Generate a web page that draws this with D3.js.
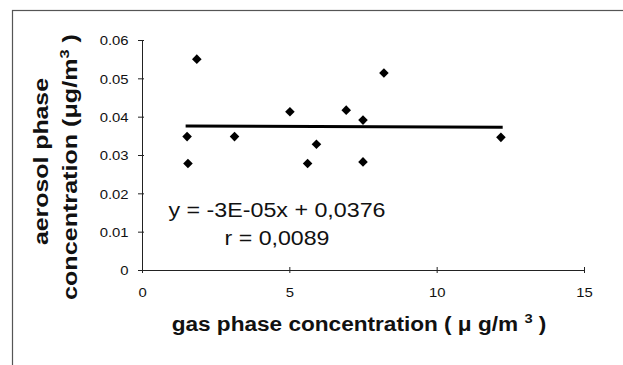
<!DOCTYPE html>
<html>
<head>
<meta charset="utf-8">
<script src="https://cdn.jsdelivr.net/npm/d3@7"></script>
<style>
  body { margin: 0; background: #fff; }
  svg { display: block; font-family: "Liberation Sans", Arial, sans-serif; }
</style>
</head>
<body>
<div id="chart"></div>
<script>
// values
const gasConc = [1.53, 1.56, 1.86, 3.14, 5.02, 5.62, 5.92, 6.93, 7.50, 7.50, 8.21, 12.18];
const aerosolConc = [0.0348, 0.0278, 0.0550, 0.0348, 0.0413, 0.0278, 0.0328, 0.0417, 0.0391, 0.0282, 0.0514, 0.0346];
const xTicks = [0, 5, 10, 15];
const yTicks = [0, 0.01, 0.02, 0.03, 0.04, 0.05, 0.06];
const trendSlope = -3e-5, trendIntercept = 0.0376;
const trendRange = [1.48, 12.24];
const equationText = "y = -3E-05x + 0,0376";
const rText = "r = 0,0089";

const W = 623, H = 365;
const margin = {top: 40, right: 39, bottom: 95, left: 142},
    width = W - margin.left - margin.right,
    height = H - margin.top - margin.bottom;

const svg = d3.select("#chart").append("svg")
    .attr("width", W)
    .attr("height", H);

// outer chart frame (only top and left edges visible in the scan)
svg.append("rect")
    .attr("x", 12.5).attr("y", 10.5)
    .attr("width", 700).attr("height", 500)
    .attr("fill", "none")
    .attr("stroke", "#555")
    .attr("stroke-width", 1.2);

const g = svg.append("g")
    .attr("transform", "translate(" + margin.left + "," + margin.top + ")");

const x = d3.scaleLinear().domain([0, 15]).range([0, width]);
const y = d3.scaleLinear().domain([0, 0.06]).range([height, 0]);

// the scanned font is wider than Arial, so stretch text along its direction
function fit(text, len) {
    const w = text.node().getComputedTextLength();
    const t = text.attr("transform") || "";
    text.attr("transform", t + " scale(" + (len / w) + ",1)");
}

// y axis
const yAxis = g.append("g")
    .call(d3.axisLeft(y).tickValues(yTicks).tickSizeInner(4).tickSizeOuter(0)
        .tickFormat(d => d === 0 ? "0" : d3.format(".2f")(d)));
yAxis.select(".domain").attr("stroke", "#222");
yAxis.selectAll(".tick line").attr("x1", 2).attr("stroke", "#222");
yAxis.selectAll(".tick text")
    .attr("x", -13.4)
    .attr("dy", "0.36em")
    .attr("font-size", 13.5)
    .attr("fill", "#111")
    .attr("lengthAdjust", "spacingAndGlyphs")
    .attr("textLength", function() { return this.getComputedTextLength() * 1.1; });

// x axis
const xAxis = g.append("g")
    .attr("transform", "translate(0," + height + ")")
    .call(d3.axisBottom(x).tickValues(xTicks).tickSizeInner(3).tickSizeOuter(0)
        .tickFormat(d3.format("d")));
xAxis.select(".domain").attr("stroke", "#222");
xAxis.selectAll(".tick line").attr("y1", -3).attr("stroke", "#222");
xAxis.selectAll(".tick text")
    .attr("y", 22.5)
    .attr("dy", "0.36em")
    .attr("font-size", 13.5)
    .attr("fill", "#111")
    .attr("lengthAdjust", "spacingAndGlyphs")
    .attr("textLength", function() { return this.getComputedTextLength() * 1.1; });

// trend line
g.append("line")
    .attr("x1", x(trendRange[0]))
    .attr("x2", x(trendRange[1]))
    .attr("y1", y(trendSlope * trendRange[0] + trendIntercept))
    .attr("y2", y(trendSlope * trendRange[1] + trendIntercept))
    .attr("stroke", "#000")
    .attr("stroke-width", 3);

// diamond markers
const points = gasConc.map((d, i) => ({gx: d, ay: aerosolConc[i]}));
g.selectAll("path.pt").data(points)
    .enter().append("path")
    .attr("class", "pt")
    .attr("d", d3.symbol(d3.symbolSquare, 46))
    .attr("transform", d => "translate(" + x(d.gx) + "," + y(d.ay) + ") rotate(45)")
    .attr("fill", "#000");

// regression text
svg.append("text")
    .attr("x", 277).attr("y", 216.7)
    .attr("text-anchor", "middle")
    .attr("font-size", 20)
    .attr("fill", "#111")
    .attr("textLength", 217)
    .attr("lengthAdjust", "spacingAndGlyphs")
    .text(equationText);

svg.append("text")
    .attr("x", 277).attr("y", 245)
    .attr("text-anchor", "middle")
    .attr("font-size", 20)
    .attr("fill", "#111")
    .attr("textLength", 105)
    .attr("lengthAdjust", "spacingAndGlyphs")
    .text(rText);

// x axis title
const xTitle = svg.append("text")
    .attr("transform", "translate(359,331)")
    .attr("text-anchor", "middle")
    .attr("font-size", 20)
    .attr("font-weight", "bold")
    .attr("fill", "#111");
xTitle.append("tspan").text("gas phase concentration ( \u03bc g/m ");
xTitle.append("tspan").attr("font-size", 13).attr("dy", -8).text("3");
xTitle.append("tspan").attr("dy", 8).text(" )");
fit(xTitle, 375);

// y axis title, two rotated lines
svg.append("text")
    .attr("transform", "translate(48,161.5) rotate(-90)")
    .attr("text-anchor", "middle")
    .attr("font-size", 20)
    .attr("font-weight", "bold")
    .attr("fill", "#111")
    .attr("textLength", 167)
    .attr("lengthAdjust", "spacingAndGlyphs")
    .text("aerosol phase");

const yTitle2 = svg.append("text")
    .attr("transform", "translate(77,167) rotate(-90)")
    .attr("text-anchor", "middle")
    .attr("font-size", 20)
    .attr("font-weight", "bold")
    .attr("fill", "#111");
yTitle2.append("tspan").text("concentration (\u03bcg/m");
yTitle2.append("tspan").attr("font-size", 13).attr("dy", -8).text("3");
yTitle2.append("tspan").attr("dy", 8).text(" )");
fit(yTitle2, 266);
</script>
</body>
</html>
